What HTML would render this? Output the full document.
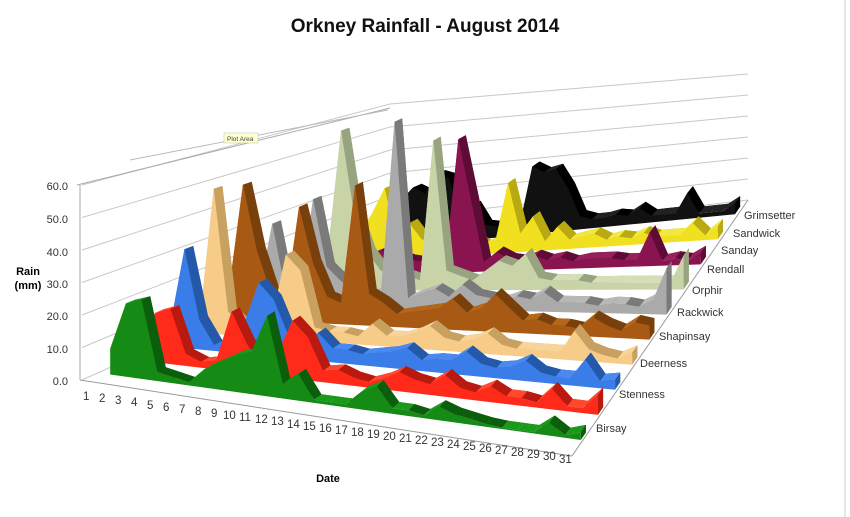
<!DOCTYPE html>
<html><head><meta charset="utf-8"><style>
body{margin:0;background:#fff;}
svg{display:block;font-family:"Liberation Sans",sans-serif;}
</style></head><body>
<svg id="s" width="850" height="517" viewBox="0 0 850 517">
<rect x="0" y="0" width="850" height="517" fill="#fff"/>
<line x1="845" y1="0" x2="845" y2="517" stroke="#ccc"/>
<g id="grid"></g>
<g id="ser"></g>
<text x="425" y="32" text-anchor="middle" font-size="19" font-weight="bold" fill="#111">Orkney Rainfall - August 2014</text>
<text x="28" y="275" text-anchor="middle" font-size="11" font-weight="bold">Rain</text>
<text x="28" y="289" text-anchor="middle" font-size="11" font-weight="bold">(mm)</text>
<text x="328" y="482" text-anchor="middle" font-size="11" font-weight="bold">Date</text>
<g font-size="11" fill="#333" text-anchor="end">
<text x="68" y="190">60.0</text><text x="68" y="223">50.0</text><text x="68" y="256">40.0</text>
<text x="68" y="288">30.0</text><text x="68" y="320">20.0</text><text x="68" y="353">10.0</text><text x="68" y="385">0.0</text>
</g>
<g font-size="11.5" fill="#333" id="dates">
<text x="83" y="400">1</text><text x="99" y="402">2</text><text x="115" y="404">3</text><text x="131" y="406">4</text><text x="147" y="409">5</text><text x="163" y="411">6</text><text x="179" y="413">7</text><text x="195" y="415">8</text><text x="211" y="417">9</text><text x="223" y="419">10</text><text x="239" y="421">11</text><text x="255" y="423">12</text><text x="271" y="425">13</text><text x="287" y="428">14</text><text x="303" y="430">15</text><text x="319" y="432">16</text><text x="335" y="434">17</text><text x="351" y="436">18</text><text x="367" y="438">19</text><text x="383" y="440">20</text><text x="399" y="442">21</text><text x="415" y="444">22</text><text x="431" y="446">23</text><text x="447" y="448">24</text><text x="463" y="450">25</text><text x="479" y="452">26</text><text x="495" y="454">27</text><text x="511" y="456">28</text><text x="527" y="458">29</text><text x="543" y="460">30</text><text x="559" y="463">31</text>
</g>
<g font-size="11" fill="#333">
<text x="596" y="432">Birsay</text><text x="619" y="398">Stenness</text><text x="640" y="367">Deerness</text><text x="659" y="340">Shapinsay</text><text x="677" y="316">Rackwick</text><text x="692" y="294">Orphir</text><text x="707" y="273">Rendall</text><text x="721" y="254">Sanday</text><text x="733" y="237">Sandwick</text><text x="744" y="219">Grimsetter</text>
</g>
<line x1="77" y1="185" x2="390" y2="108" stroke="#aaa"/>
<line x1="130" y1="160" x2="388" y2="110" stroke="#bbb"/>
<rect x="224" y="133" width="34" height="10" fill="#ffffd0" stroke="#bbb" stroke-width="0.5"/>
<text x="227" y="141" font-size="6.5" fill="#444">Plot Area</text>
</svg>
<script>
var FL=[92,380],FR=[578,452],BR=[748,200],BL=[390,242];
var sF=3.25,sFR=2.55,sBR=2.1,sBL=2.3;
function P(day,d,h){var u=0.01+(day-1)/30*0.98;
var x=(1-u)*(1-d)*FL[0]+u*(1-d)*FR[0]+u*d*BR[0]+(1-u)*d*BL[0];
var y=(1-u)*(1-d)*FL[1]+u*(1-d)*FR[1]+u*d*BR[1]+(1-u)*d*BL[1];
var s=(1-u)*(1-d)*sF+u*(1-d)*sFR+u*d*sBR+(1-u)*d*sBL;return [x,y-h*s];}
var NS="http://www.w3.org/2000/svg";
function el(g,t,a){var e=document.createElementNS(NS,t);for(var k in a)e.setAttribute(k,a[k]);g.appendChild(e);return e;}
var grid=document.getElementById('grid');
for(var v=0;v<=60;v+=10){el(grid,'polyline',{points:(82)+','+(380-v*3.25)+' '+BL[0]+','+(BL[1]-v*sBL)+' '+BR[0]+','+(BR[1]-v*sBR),fill:'none',stroke:'#c8c8c8','stroke-width':1});}
el(grid,'line',{x1:80,y1:380,x2:80,y2:185,stroke:'#aaa'});
el(grid,'line',{x1:80,y1:380,x2:FR[0]-6,y2:FR[1]+4,stroke:'#999'});
el(grid,'line',{x1:FR[0]-6,y1:FR[1]+4,x2:BR[0],y2:BR[1],stroke:'#999'});
var S=[
["#158a15","#0b5e0b","#1a9a1a",[8,23,25,3,2,1,6,9,12,14,27,5,9,1,1,1,6,9,2,2,1,5,3,2,1,0.5,0.5,0.5,5,1,3]],
["#ff2a1a","#b81a10","#ff4a30",[7,16,18,4,2,3,20,10,2,8,20,15,4,5,3,2,4,7,5,4,8,4,3,6,3,3,2,8,2,2,8]],
["#3a7de8","#2458a8","#4a8af0",[6,33,10,2,5,10,25,20,8,6,10,5,5,4,5,6,8,4,5,5,9,5,4,5,8,4,3,3,11,3,4]],
["#f7cc88","#c8a060","#f9d498",[3,50,8,4,4,6,30,25,5,4,4,3,8,4,4,6,9,5,4,5,8,4,3,3,3,3,12,5,3,2,5]],
["#a85a14","#7a400c","#b4661a",[10,48,25,10,6,42,22,10,8,52,12,9,5,6,7,8,12,7,9,15,10,5,6,4,4,3,8,5,3,7,6]],
["#aaaaaa","#7a7a7a","#b8b8b8",[4,30,5,5,40,15,10,6,5,6,72,4,6,8,5,10,6,5,4,6,5,8,4,4,4,3,4,4,3,6,20]],
["#c8d4a8","#98a480","#d4deb8",[5,10,10,15,62,30,15,8,5,6,4,60,8,6,4,8,12,10,15,5,4,4,4,3,3,3,3,3,3,3,15]],
["#8a1450","#5e0c36","#96205c",[5,8,6,4,8,10,8,6,5,6,4,55,30,4,8,5,4,6,4,5,3,4,4,4,3,3,15,2,3,2,5]],
["#f0e020","#b8aa10","#f4e840",[6,12,20,30,8,15,8,6,5,10,8,4,6,30,8,15,4,10,4,5,6,3,4,3,5,3,3,3,8,2,6]],
["#111111","#000000","#222222",[5,10,20,25,22,30,28,10,15,6,5,4,6,30,27,28,19,6,4,4,5,4,7,3,3,3,12,2,2,2,5]]];
var g=document.getElementById('ser');
function pts(a){return a.map(function(p){return p[0].toFixed(1)+','+p[1].toFixed(1)}).join(' ');}
for(var i=9;i>=0;i--){var c=S[i],data=c[3],d0=0.045+i*0.1,d1=d0+0.03;
 var back=[P(1,d1,0)];for(var k=0;k<31;k++)back.push(P(k+1,d1,data[k]));back.push(P(31,d1,0));
 el(g,'polygon',{points:pts(back),fill:c[1]});
 for(var k=0;k<30;k++){var q=[P(k+1,d0,data[k]),P(k+2,d0,data[k+1]),P(k+2,d1,data[k+1]),P(k+1,d1,data[k])];
  el(g,'polygon',{points:pts(q),fill:data[k+1]>=data[k]?c[2]:c[1]});}
 el(g,'polygon',{points:pts([P(31,d0,0),P(31,d0,data[30]),P(31,d1,data[30]),P(31,d1,0)]),fill:c[1]});
 var fr=[P(1,d0,0)];for(var k=0;k<31;k++)fr.push(P(k+1,d0,data[k]));fr.push(P(31,d0,0));
 el(g,'polygon',{points:pts(fr),fill:c[0]});
}
</script>
</body></html>
